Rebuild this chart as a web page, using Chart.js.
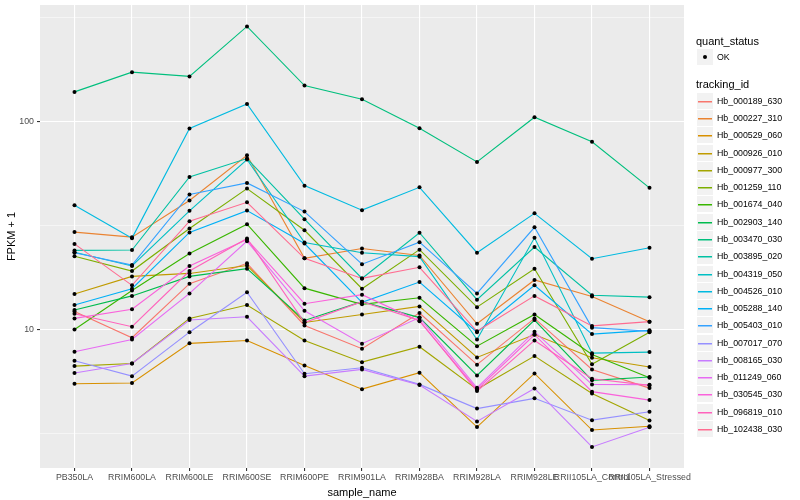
<!DOCTYPE html>
<html>
<head>
<meta charset="utf-8">
<script src="https://cdn.jsdelivr.net/npm/chart.js@4.4.0/dist/chart.umd.min.js"></script>
<style>
body { margin: 0; background: #fff; font-family: "Liberation Sans", Arial, sans-serif; }
#wrap { position: relative; width: 800px; height: 500px; }
#legend div { position: absolute; white-space: nowrap; }
.ttl { font-size: 11px; line-height: 12px; color: #000; }
.lab { font-size: 8.8px; line-height: 10px; color: #000; }
.key { background: #F2F2F2; width: 16px; height: 16px; }
</style>
</head>
<body>
<div id="wrap">
  <canvas id="chart" width="800" height="500"></canvas>
  <div id="legend"></div>
</div>
<script>
var categories = ['PB350LA', 'RRIM600LA', 'RRIM600LE', 'RRIM600SE', 'RRIM600PE', 'RRIM901LA',
  'RRIM928BA', 'RRIM928LA', 'RRIM928LE', 'RRII105LA_Control', 'RRII105LA_Stressed'];

var trackingIds = ['Hb_000189_630', 'Hb_000227_310', 'Hb_000529_060', 'Hb_000926_010', 'Hb_000977_300',
  'Hb_001259_110', 'Hb_001674_040', 'Hb_002903_140', 'Hb_003470_030', 'Hb_003895_020',
  'Hb_004319_050', 'Hb_004526_010', 'Hb_005288_140', 'Hb_005403_010', 'Hb_007017_070',
  'Hb_008165_030', 'Hb_011249_060', 'Hb_030545_030', 'Hb_096819_010', 'Hb_102438_030'];

var quantStatus = ['OK'];

// FPKM + 1, one value per sample
var hb_000189_630 = [12.2, 9.12, 16.6, 20.8, 10.45, 8.08, 12.0, 6.77, 11.3, 6.42, 5.22];
var hb_000227_310 = [29.4, 27.8, 41.7, 68.9, 22.0, 24.5, 22.7, 10.65, 17.3, 14.4, 10.9];
var hb_000529_060 = [5.48, 5.52, 8.57, 8.85, 6.71, 5.16, 6.19, 3.39, 6.14, 3.28, 3.42];
var hb_000926_010 = [14.8, 18.0, 18.6, 20.3, 10.8, 11.8, 12.9, 7.33, 9.45, 7.31, 6.59];
var hb_000977_300 = [6.66, 6.86, 11.3, 13.1, 8.85, 6.96, 8.26, 5.15, 7.44, 4.92, 3.65];
var hb_001259_110 = [22.5, 19.1, 30.6, 47.6, 30.0, 15.7, 24.2, 12.8, 19.6, 6.8, 9.7];
var hb_001674_040 = [10.0, 15.4, 23.2, 32.1, 15.8, 13.2, 14.2, 8.31, 11.8, 7.58, 5.86];
var hb_002903_140 = [12.4, 14.5, 18.0, 19.6, 11.05, 13.6, 11.4, 6.01, 11.1, 5.69, 5.90];
var hb_003470_030 = [139, 173, 165, 287, 149, 128, 93, 64, 105, 80, 48];
var hb_003895_020 = [24.0, 24.1, 54.2, 66.4, 33.9, 17.6, 29.2, 13.9, 24.9, 14.6, 14.3];
var hb_004319_050 = [23.5, 20.2, 37.2, 65.7, 26.2, 23.4, 22.4, 8.95, 27.6, 7.69, 7.78];
var hb_004526_010 = [39.6, 27.5, 92.6, 121.7, 49.2, 37.5, 48.3, 23.4, 36.2, 21.9, 24.7];
var hb_005288_140 = [13.1, 15.7, 29.3, 37.3, 25.9, 13.5, 16.9, 9.7, 16.3, 9.5, 9.9];
var hb_005403_010 = [23.4, 20.4, 44.6, 50.7, 36.9, 20.6, 26.3, 14.9, 31.0, 10.2, 9.8];
var hb_007017_070 = [7.07, 5.96, 9.7, 15.1, 6.12, 6.54, 5.44, 4.16, 4.66, 3.66, 4.02];
var hb_008165_030 = [6.17, 6.86, 11.1, 11.5, 5.96, 6.42, 5.40, 3.61, 5.20, 2.72, 3.38];
var hb_011249_060 = [7.81, 8.95, 14.9, 26.6, 12.3, 8.54, 11.4, 5.24, 9.75, 5.44, 5.42];
var hb_030545_030 = [11.3, 12.5, 20.2, 27.1, 13.3, 14.7, 10.96, 5.15, 9.43, 5.02, 4.57];
var hb_096819_010 = [11.9, 10.3, 19.1, 27.4, 10.8, 13.6, 11.05, 5.05, 8.85, 5.79, 5.38];
var hb_102438_030 = [25.8, 16.3, 33.2, 40.9, 22.0, 17.6, 19.9, 9.8, 14.5, 10.4, 10.9];

var seriesValues = [hb_000189_630, hb_000227_310, hb_000529_060, hb_000926_010, hb_000977_300,
  hb_001259_110, hb_001674_040, hb_002903_140, hb_003470_030, hb_003895_020,
  hb_004319_050, hb_004526_010, hb_005288_140, hb_005403_010, hb_007017_070,
  hb_008165_030, hb_011249_060, hb_030545_030, hb_096819_010, hb_102438_030];

var yTickLabels = [10, 100];
var yGridBreaks = [3.1623, 10, 31.623, 100, 316.23];

// ggplot default hue palette, 20 levels
var colors = ['#F8766D', '#EA8331', '#D89000', '#C09B00', '#A3A500', '#7CAE00', '#39B600', '#00BB4E',
  '#00BF7D', '#00C1A3', '#00BFC4', '#00BAE0', '#00B0F6', '#35A2FF', '#9590FF', '#C77CFF',
  '#E76BF3', '#FA62DB', '#FF62BC', '#FF6C91'];

function toPoints(vals) {
  return vals.map(function (v, i) { return { x: i, y: v }; });
}

var datasets = [];
seriesValues.forEach(function (vals, i) {
  datasets.push({
    label: trackingIds[i],
    data: toPoints(vals),
    borderColor: colors[i],
    borderWidth: 1.1,
    pointRadius: 0,
    fill: false,
    tension: 0,
    order: 100 - i
  });
});
seriesValues.forEach(function (vals, i) {
  datasets.push({
    label: quantStatus[0],
    data: toPoints(vals),
    showLine: false,
    pointRadius: 2,
    pointBackgroundColor: '#000',
    pointBorderWidth: 0,
    order: 0
  });
});

function isMajor(v) {
  return yTickLabels.some(function (t) { return Math.abs(t - v) < 1e-6; });
}

var panelBg = {
  id: 'panelBg',
  beforeDraw: function (chart) {
    var a = chart.chartArea, ctx = chart.ctx;
    ctx.save();
    ctx.fillStyle = '#EBEBEB';
    ctx.fillRect(a.left, a.top, a.right - a.left, a.bottom - a.top);
    ctx.restore();
  }
};

var chart = new Chart(document.getElementById('chart'), {
  type: 'line',
  data: { datasets: datasets },
  plugins: [panelBg],
  options: {
    responsive: false,
    animation: false,
    layout: { padding: { top: 5, right: 116, bottom: 0, left: 0 } },
    plugins: { legend: { display: false }, tooltip: { enabled: false } },
    scales: {
      x: {
        type: 'linear',
        min: -0.6,
        max: 10.6,
        afterBuildTicks: function (scale) {
          scale.ticks = categories.map(function (c, i) { return { value: i }; });
        },
        afterFit: function (scale) {
          scale.height = 32;
          scale.paddingLeft = 0; scale.paddingRight = 0;
        },
        border: { display: false },
        grid: { color: '#FFFFFF', lineWidth: 1.1, tickColor: '#333333', tickLength: 3 },
        ticks: {
          autoSkip: false, maxRotation: 0, minRotation: 0, padding: 1,
          color: '#4D4D4D', font: { family: 'Liberation Sans', size: 8.8 },
          callback: function (v) { return categories[v]; }
        },
        title: {
          display: true, text: 'sample_name', color: '#000',
          font: { family: 'Liberation Sans', size: 11 }, padding: { top: 5, bottom: 0 }
        }
      },
      y: {
        type: 'logarithmic',
        min: 2.154,
        max: 364,
        afterBuildTicks: function (scale) {
          scale.ticks = yGridBreaks.map(function (v) { return { value: v }; });
        },
        afterFit: function (scale) {
          scale.width = 40;
          scale.paddingTop = 0; scale.paddingBottom = 0;
        },
        border: { display: false },
        grid: {
          color: '#FFFFFF',
          lineWidth: function (c) { return isMajor(c.tick.value) ? 1.1 : 0.5; },
          tickColor: function (c) { return isMajor(c.tick.value) ? '#333333' : 'rgba(0,0,0,0)'; },
          tickLength: 3
        },
        ticks: {
          padding: 3, color: '#4D4D4D', font: { family: 'Liberation Sans', size: 8.8 },
          callback: function (v) { return isMajor(v) ? String(v) : ''; }
        },
        title: {
          display: true, text: 'FPKM + 1', color: '#000',
          font: { family: 'Liberation Sans', size: 11 }, padding: { top: 5, bottom: 0 }
        }
      }
    }
  }
});

// ggplot-style legend on the right
var legend = document.getElementById('legend');
function add(cls, left, top, text) {
  var d = document.createElement('div');
  d.className = cls;
  d.style.left = left + 'px';
  d.style.top = top + 'px';
  if (text) d.textContent = text;
  legend.appendChild(d);
  return d;
}
add('ttl', 696, 34.5, 'quant_status');
add('key', 697, 49);
var dot = add('', 703, 55);
dot.style.width = '4px'; dot.style.height = '4px'; dot.style.borderRadius = '2px'; dot.style.background = '#000';
add('lab', 717, 52, quantStatus[0]);
add('ttl', 696, 78, 'tracking_id');
trackingIds.forEach(function (id, i) {
  var cy = Math.round(100.7 + i * 17.28);
  add('key', 697, cy - 8);
  var ln = add('', 698, cy);
  ln.style.width = '14px'; ln.style.height = '1px'; ln.style.background = colors[i];
  ln.style.boxShadow = '0 0.5px 0 ' + colors[i];
  add('lab', 717, cy - 5, id);
});
</script>
</body>
</html>
